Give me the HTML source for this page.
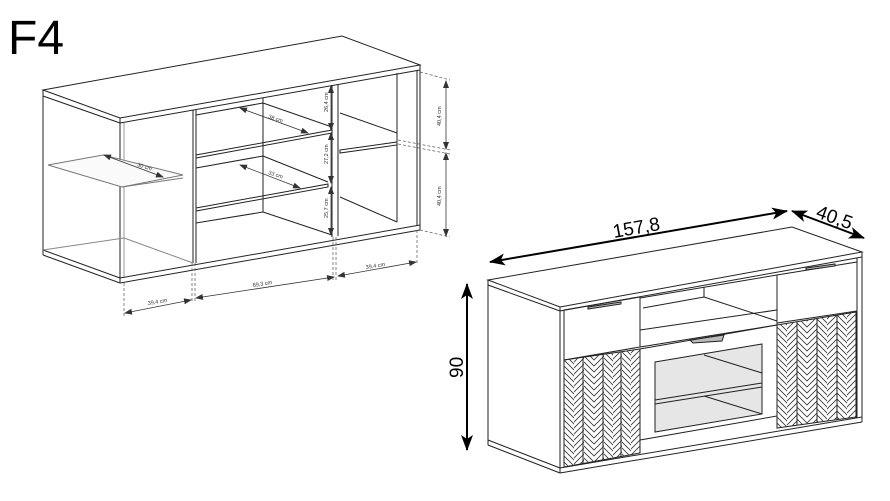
<!DOCTYPE html>
<html><head><meta charset="utf-8"><style>
html,body{margin:0;padding:0;background:#fff;}
svg{display:block;}
text{font-family:"Liberation Sans",sans-serif;}
</style></head><body>
<svg width="890" height="501" viewBox="0 0 890 501" xmlns="http://www.w3.org/2000/svg">
<defs>
<pattern id="pa" width="6" height="6" patternUnits="userSpaceOnUse"><path d="M-1,-1 L7,7 M-1,5 L1,7 M5,-1 L7,1" stroke="#333" stroke-width="0.8"/></pattern>
<pattern id="pb" width="6" height="6" patternUnits="userSpaceOnUse"><path d="M7,-1 L-1,7 M1,-1 L-1,1 M7,5 L5,7" stroke="#333" stroke-width="0.8"/></pattern>
<clipPath id="cl"><polygon points="564,360 640,349 640,453 564,467"/></clipPath>
<clipPath id="cr"><polygon points="777,325 856,312 856,417 777,428"/></clipPath>
<marker id="ar" markerWidth="8" markerHeight="6" refX="7" refY="3" orient="auto-start-reverse" markerUnits="userSpaceOnUse"><path d="M0,0 L8,3 L0,6 Z" fill="#333"/></marker>
<marker id="AR" markerWidth="16" markerHeight="12" refX="15" refY="6" orient="auto-start-reverse" markerUnits="userSpaceOnUse"><path d="M0,0 L16,6 L0,12 L4,6 Z" fill="#000"/></marker>
</defs>
<text x="8" y="54" font-size="48" fill="#000">F4</text>

<!-- LEFT DRAWING -->
<g fill="none" stroke="#222" stroke-width="1">
<polygon points="43,90 342,36 420,65 120,118" fill="#fff"/>
<line x1="43" y1="90" x2="43" y2="96"/>
<line x1="43" y1="96" x2="120" y2="123"/>
<line x1="120" y1="123" x2="420" y2="70"/>
<line x1="43" y1="90" x2="43" y2="255"/>
<line x1="43" y1="250" x2="120" y2="278"/>
<line x1="43" y1="255" x2="120" y2="283"/>
<line x1="120" y1="118" x2="120" y2="283"/>
<line x1="124" y1="123" x2="124" y2="278" stroke="#999"/>
<line x1="120" y1="278" x2="420" y2="225"/>
<line x1="120" y1="283" x2="420" y2="230"/>
<line x1="417" y1="70" x2="417" y2="226"/>
<line x1="420" y1="65" x2="420" y2="230"/>
<line x1="43" y1="255" x2="43" y2="250"/>
<!-- divider 1 -->
<line x1="193" y1="110" x2="193" y2="263"/>
<line x1="196" y1="110" x2="196" y2="263"/>
<!-- divider 2 -->
<line x1="332" y1="85" x2="332" y2="237"/>
<line x1="338" y1="84" x2="338" y2="236"/>
<!-- middle compartment -->
<line x1="263" y1="98" x2="263" y2="212"/>
<line x1="196" y1="115" x2="263" y2="103"/>
<polygon points="196,155 332,130 332,133 196,158"/>
<line x1="196" y1="117" x2="332" y2="130" stroke-width="0"/>
<line x1="263" y1="103" x2="332" y2="127"/>
<line x1="196" y1="168" x2="263" y2="156"/>
<line x1="263" y1="156" x2="328" y2="182"/>
<polygon points="196,208 328,184 328,187 196,211"/>
<line x1="196" y1="223" x2="263" y2="212"/>
<line x1="263" y1="212" x2="332" y2="235"/>
<!-- right compartment -->
<line x1="397" y1="73" x2="397" y2="222"/>
<line x1="340" y1="113" x2="397" y2="133"/>
<polygon points="340,150 397,142 397,145 340,153"/>
<line x1="340" y1="197" x2="397" y2="222"/>
<!-- left compartment -->
<line x1="124" y1="238" x2="193" y2="263" stroke="#888"/>
<line x1="43" y1="250" x2="124" y2="238" stroke="#888"/>
<polygon points="48,165 103,155 183,175 122,187" stroke="#777" fill="#fafafa"/>
<line x1="122" y1="187" x2="183" y2="178" stroke="#777"/>
</g>
<!-- dims left -->
<g stroke="#555" stroke-width="0.7" fill="none" stroke-dasharray="3,2">
<line x1="420" y1="72" x2="450" y2="80"/><line x1="398" y1="140" x2="450" y2="150"/><line x1="398" y1="144" x2="450" y2="154"/><line x1="420" y1="230" x2="450" y2="237"/>
<line x1="124" y1="283" x2="124" y2="318"/><line x1="192" y1="263" x2="192" y2="303"/><line x1="195" y1="263" x2="195" y2="303"/>
<line x1="333" y1="237" x2="333" y2="280"/><line x1="336" y1="237" x2="336" y2="280"/><line x1="417" y1="230" x2="417" y2="265"/>
</g>
<g stroke="#333" stroke-width="0.8" marker-start="url(#ar)" marker-end="url(#ar)">
<line x1="446" y1="81" x2="446" y2="149"/><line x1="446" y1="153" x2="446" y2="236"/>
<line x1="331" y1="86" x2="331" y2="130"/><line x1="331" y1="133" x2="331" y2="183"/><line x1="331" y1="187" x2="331" y2="235"/>
<line x1="240" y1="108" x2="308" y2="133"/><line x1="240" y1="165" x2="300" y2="188"/><line x1="104" y1="155" x2="163" y2="177"/>
<line x1="125" y1="313" x2="191" y2="300"/><line x1="196" y1="298" x2="334" y2="277"/><line x1="338" y1="276" x2="416" y2="262"/>
</g>
<g font-size="5.5" fill="#333">
<text transform="translate(441,126) rotate(-90)">40,4 cm</text>
<text transform="translate(441,206) rotate(-90)">40,4 cm</text>
<text transform="translate(328,112) rotate(-90)">26,4 cm</text>
<text transform="translate(328,164) rotate(-90)">27,2 cm</text>
<text transform="translate(328,218) rotate(-90)">25,7 cm</text>
<text transform="translate(268,118) rotate(18)">38 cm</text>
<text transform="translate(268,174) rotate(18)">33 cm</text>
<text transform="translate(137,166) rotate(18)">30 cm</text>
<text transform="translate(148,305) rotate(-9)">39,4 cm</text>
<text transform="translate(253,287) rotate(-9)">69,3 cm</text>
<text transform="translate(366,269) rotate(-9)">39,4 cm</text>
</g>

<!-- RIGHT DRAWING -->
<g fill="none" stroke="#222" stroke-width="1">
<polygon points="488,280 792,227 862,252 560,307" fill="#fff"/>
<line x1="488" y1="285" x2="560" y2="311"/>
<line x1="560" y1="311" x2="862" y2="257"/>
<line x1="488" y1="280" x2="488" y2="445"/>
<line x1="488" y1="440" x2="560" y2="468"/>
<line x1="488" y1="445" x2="560" y2="473"/>
<line x1="560" y1="307" x2="560" y2="473"/>
<line x1="560" y1="468" x2="862" y2="417"/>
<line x1="560" y1="473" x2="862" y2="422"/>
<line x1="857" y1="258" x2="857" y2="418"/>
<line x1="862" y1="252" x2="862" y2="422"/>
<!-- left drawer -->
<polygon points="564,310 640,297 640,347 564,360"/>
<polygon points="588,307 621,302 621,304 588,309" fill="#bbb"/>
<!-- left chevron panel -->
<polygon points="564,360 640,349 640,453 564,467"/>
<!-- middle niche -->
<line x1="640" y1="298" x2="777" y2="275"/>
<line x1="643" y1="308" x2="704" y2="297"/>
<line x1="704" y1="287" x2="704" y2="297"/>
<line x1="704" y1="297" x2="777" y2="321"/>
<polygon points="640,330 777,310 777,325 640,347"/>
<polygon points="690,340 724,335 722,341 693,343" fill="#bbb"/>
<!-- glass door -->
<polygon points="640,349 777,325 777,416 640,440"/>
<polygon points="655,362 762,344 762,414 655,432" fill="#e6e6e6"/>
<line x1="655" y1="400" x2="762" y2="383"/>
<line x1="655" y1="404" x2="762" y2="387"/>
<line x1="704" y1="355" x2="762" y2="373"/>
<line x1="704" y1="396" x2="762" y2="414"/>
<line x1="762" y1="344" x2="762" y2="414"/>
<!-- right drawer -->
<polygon points="777,275 857,262 857,311 777,323"/>
<polygon points="806,268 835,264 835,266 806,270" fill="#bbb"/>
<polygon points="777,325 856,312 856,417 777,428"/>
</g>
<!-- chevrons -->
<g clip-path="url(#cl)">
<rect x="564" y="340" width="10" height="140" fill="url(#pa)"/>
<rect x="574" y="340" width="10" height="140" fill="url(#pb)"/>
<rect x="584" y="340" width="10" height="140" fill="url(#pa)"/>
<rect x="594" y="340" width="10" height="140" fill="url(#pb)"/>
<rect x="604" y="340" width="9" height="140" fill="url(#pa)"/>
<rect x="613" y="340" width="9" height="140" fill="url(#pb)"/>
<rect x="622" y="340" width="9" height="140" fill="url(#pa)"/>
<rect x="631" y="340" width="9" height="140" fill="url(#pb)"/>
<g stroke="#222" stroke-width="1"><line x1="583" y1="340" x2="583" y2="480"/><line x1="603" y1="340" x2="603" y2="480"/><line x1="621" y1="340" x2="621" y2="480"/></g>
</g>
<g clip-path="url(#cr)">
<rect x="777" y="305" width="10" height="130" fill="url(#pa)"/>
<rect x="787" y="305" width="10" height="130" fill="url(#pb)"/>
<rect x="797" y="305" width="10" height="130" fill="url(#pa)"/>
<rect x="807" y="305" width="10" height="130" fill="url(#pb)"/>
<rect x="817" y="305" width="10" height="130" fill="url(#pa)"/>
<rect x="827" y="305" width="10" height="130" fill="url(#pb)"/>
<rect x="837" y="305" width="10" height="130" fill="url(#pa)"/>
<rect x="847" y="305" width="10" height="130" fill="url(#pb)"/>
<g stroke="#222" stroke-width="1"><line x1="797" y1="305" x2="797" y2="435"/><line x1="817" y1="305" x2="817" y2="435"/><line x1="837" y1="305" x2="837" y2="435"/></g>
</g>
<!-- big dims -->
<g stroke="#000" stroke-width="2" marker-start="url(#AR)" marker-end="url(#AR)">
<line x1="490" y1="262" x2="787" y2="211"/>
<line x1="792" y1="211" x2="864" y2="238"/>
<line x1="467" y1="284" x2="467" y2="450"/>
</g>
<g font-size="19" fill="#000">
<text transform="translate(614,238) rotate(-10)">157,8</text>
<text transform="translate(815,217) rotate(20)">40,5</text>
<text transform="translate(463,378) rotate(-90)">90</text>
</g>
</svg>
</body></html>
